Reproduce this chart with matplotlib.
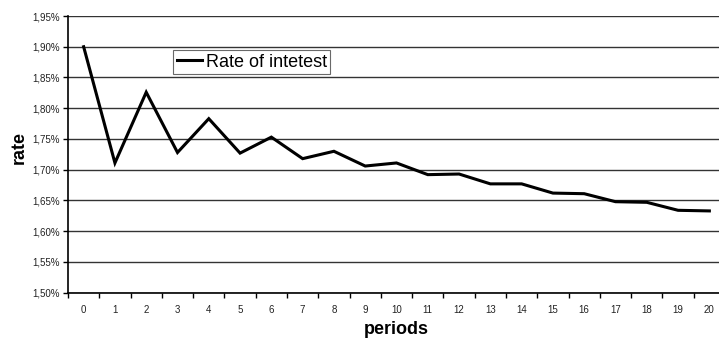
import matplotlib
matplotlib.use("Agg")
import matplotlib.pyplot as plt
from matplotlib.ticker import FuncFormatter, MultipleLocator
from matplotlib.lines import Line2D

periods = list(range(21))
rate = [1.900, 1.711, 1.826, 1.728, 1.783, 1.727, 1.753, 1.718, 1.730, 1.706,
        1.711, 1.692, 1.693, 1.677, 1.677, 1.662, 1.661, 1.648, 1.647, 1.634, 1.633]

plt.rcParams['font.family'] = ['Liberation Sans', 'DejaVu Sans']

W, H = 719, 341
fig = plt.figure(figsize=(W/100, H/100), dpi=100)
left, right, top, bottom = 68, 725, 16, 292.7
ax = fig.add_axes([left/W, (H-bottom)/H, (right-left)/W, (bottom-top)/H])

ax.plot(periods, rate, color='black', lw=2.2, solid_joinstyle='miter', clip_on=False)
ax.set_xlim(-0.5, 20.5)
ax.set_ylim(1.50, 1.95)
ax.yaxis.set_major_locator(MultipleLocator(0.05))
ax.yaxis.set_major_formatter(FuncFormatter(lambda v, p: f"{v:.2f}%".replace('.', ',')))
ax.set_xticks(periods)
ax.set_xticks([p - 0.5 for p in periods] + [20.5], minor=True)
ax.tick_params(axis='x', which='major', length=0, labelsize=7, pad=9, colors='#222222')
ax.tick_params(axis='x', which='minor', length=3.5, width=1, direction='out')
ax.tick_params(axis='y', length=3.5, width=1, labelsize=7, pad=2.5, direction='out',
               labelcolor='#222222')
ax.grid(axis='y', color='#333333', lw=1)
ax.set_axisbelow(True)
for s in ['top', 'right']:
    ax.spines[s].set_visible(False)
ax.spines['left'].set_linewidth(1.2)
ax.spines['bottom'].set_linewidth(1.2)

ax.set_xlabel('periods', fontsize=13, fontweight='bold')
ax.set_ylabel('rate', fontsize=13, fontweight='bold')
ax.xaxis.set_label_coords((396 - left) / (right - left), (bottom - 329) / (bottom - top),
                          transform=ax.transAxes)
ax.yaxis.set_label_coords((19 - left) / (right - left), (bottom - 148) / (bottom - top),
                          transform=ax.transAxes)
ax.xaxis.label.set_va('center')
ax.yaxis.label.set_va('center')

handle = Line2D([], [], color='black', lw=2.2)
leg = ax.legend([handle], ['Rate of intetest'], loc='upper left',
                bbox_to_anchor=(173/W, (H-50)/H), bbox_transform=fig.transFigure,
                fontsize=13, frameon=True, fancybox=False, edgecolor='#444444',
                handlelength=1.4, handletextpad=0.2, borderpad=0.2, borderaxespad=0)
leg.get_frame().set_linewidth(0.8)

fig.savefig('out.png', dpi=100)
